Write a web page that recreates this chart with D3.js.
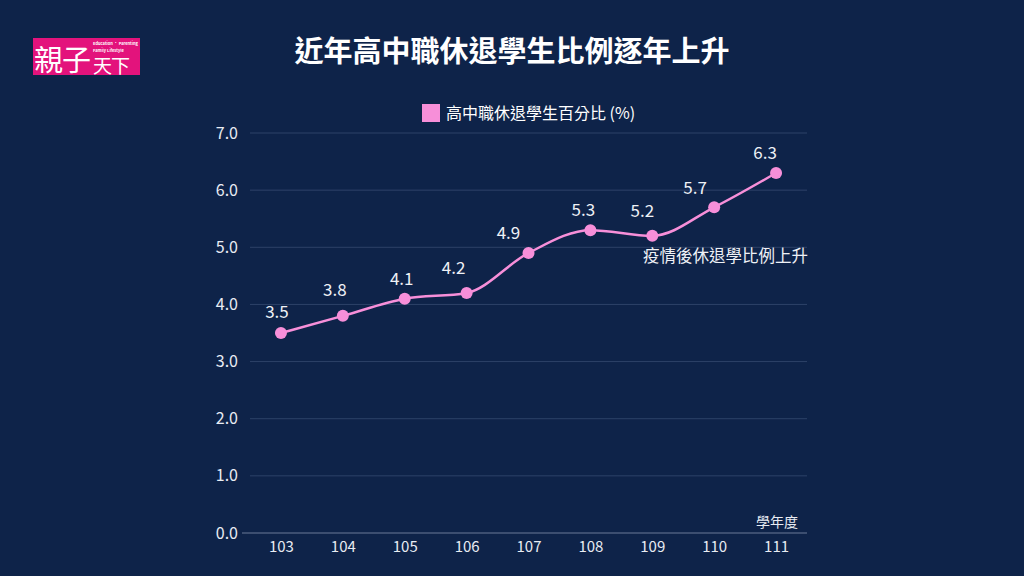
<!DOCTYPE html>
<html>
<head>
<meta charset="utf-8">
<script src="https://cdn.jsdelivr.net/npm/d3@7"></script>
<style>
    body { margin: 0; background: #0e2349; }
    svg { display: block; font-family: "Noto Sans CJK TC", "Noto Sans", sans-serif; }
</style>
</head>
<body>
<svg id="chart" width="1024" height="576"></svg>
<script>
var years = ["103", "104", "105", "106", "107", "108", "109", "110", "111"];
var rates = [3.5, 3.8, 4.1, 4.2, 4.9, 5.3, 5.2, 5.7, 6.3];
var yTicks = [0, 1, 2, 3, 4, 5, 6, 7];

var title = "近年高中職休退學生比例逐年上升",
    seriesName = "高中職休退學生百分比 (%)",
    note = "疫情後休退學比例上升",
    xTitle = "學年度";

// value label nudges, as placed in the original
var labelDx = [-4, -8, -3, -13, -20, -7, -10, -19, -11],
    labelDy = [-15, -20, -14, -19, -14, -14, -19, -13, -14];

var canvas = d3.select("#chart"),
    width = 1024, height = 576,
    margins = {"left": 250, "right": 218, "top": 133, "bottom": 43},
    pink = "#f78fd9",
    data = years.map((y, i) => ({year: y, value: rates[i], dx: labelDx[i], dy: labelDy[i]}));

canvas.append("rect").attr("width", width).attr("height", height).attr("fill", "#0e2349");

// logo
var logo = canvas.append("g").attr("transform", "translate(33,38)");
logo.append("rect").attr("width", 107).attr("height", 37).attr("fill", "#e3137c");
logo.append("text").attr("x", 1).attr("y", 33).text("親子")
    .attr("fill", "white").style("font-size", "29px").style("letter-spacing", "-1px");
logo.append("text").attr("x", 60).attr("y", 35).text("天下")
    .attr("fill", "white").style("font-size", "19px").style("letter-spacing", "-1px");
logo.append("text").attr("x", 60).attr("y", 7).text("Education · Parenting")
    .attr("fill", "white").style("font-size", "4px").style("font-weight", "bold");
logo.append("text").attr("x", 60).attr("y", 13.5).text("Family Lifestyle")
    .attr("fill", "white").style("font-size", "4px").style("font-weight", "bold");

canvas.append("text").attr("x", 512).attr("y", 62).text(title)
    .attr("fill", "white").attr("text-anchor", "middle")
    .style("font-size", "29px").style("font-weight", "bold");

// legend
canvas.append("rect").attr("x", 422).attr("y", 104).attr("width", 18).attr("height", 18).attr("fill", pink);
canvas.append("text").attr("x", 446).attr("y", 119).text(seriesName)
    .attr("fill", "white").style("font-size", "16px");

var x = d3.scalePoint().domain(years).range([250, 807]).padding(0.5),
    y = d3.scaleLinear().domain([0, 7]).range([height - margins.bottom, margins.top]);

// grid
canvas.append("g").selectAll("line").data(yTicks).enter().append("line")
    .attr("x1", d => d === 0 ? 242 : margins.left).attr("x2", width - margins.right + 1)
    .attr("y1", d => y(d)).attr("y2", d => y(d))
    .attr("stroke", d => d === 0 ? "#6a7a98" : "#2d4268").attr("stroke-width", 1);

var yaxis = canvas.append("g").attr("transform", "translate(" + [238, 0] + ")")
    .call(d3.axisLeft(y).tickValues(yTicks).tickFormat(d3.format(".1f")).tickSize(0).tickPadding(0));
yaxis.select(".domain").remove();
yaxis.selectAll("text").attr("fill", "#e8ecf3").style("font-size", "16px")
    .style("font-family", "\"Noto Sans CJK TC\", sans-serif");

var xaxis = canvas.append("g").attr("transform", "translate(" + [0, height - margins.bottom] + ")")
    .call(d3.axisBottom(x).tickSize(0).tickPadding(8));
xaxis.select(".domain").remove();
xaxis.selectAll("text").attr("fill", "#e8ecf3").style("font-size", "15px")
    .style("font-family", "\"Noto Sans CJK TC\", sans-serif");

canvas.append("text").attr("x", 798).attr("y", 527).text(xTitle)
    .attr("fill", "#e8ecf3").attr("text-anchor", "end").style("font-size", "14px");

// line
var line = d3.line().x(d => x(d.year)).y(d => y(d.value)).curve(d3.curveMonotoneX);
canvas.append("path").datum(data).attr("d", line)
    .attr("fill", "none").attr("stroke", pink).attr("stroke-width", 2.5);

canvas.append("g").selectAll("circle").data(data).enter().append("circle")
    .attr("cx", d => x(d.year)).attr("cy", d => y(d.value)).attr("r", 6).attr("fill", pink);

canvas.append("g").selectAll("text").data(data).enter().append("text")
    .attr("x", d => x(d.year) + d.dx).attr("y", d => y(d.value) + d.dy)
    .attr("text-anchor", "middle").text(d => d3.format(".1f")(d.value))
    .attr("fill", "#eef1f6").style("font-size", "17px");

canvas.append("text").attr("x", x("111") + 32).attr("y", y(5.2) + 26).text(note)
    .attr("fill", "#eef1f6").attr("text-anchor", "end").style("font-size", "16.5px");
</script>
</body>
</html>
